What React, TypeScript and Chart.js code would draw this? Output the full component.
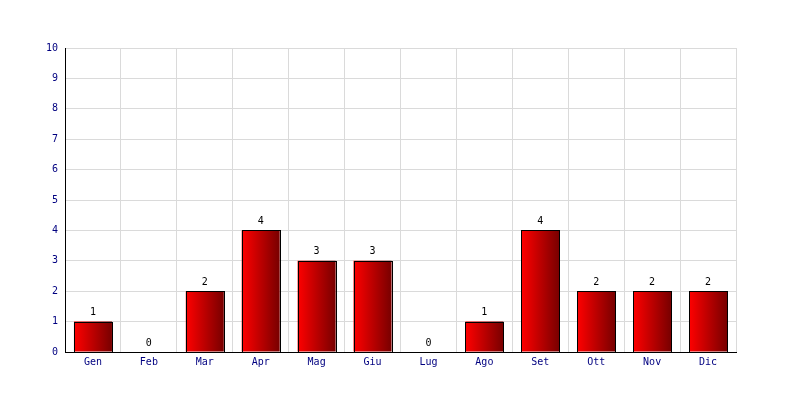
import React, { useEffect, useRef } from "react";
import { Chart, registerables } from "chart.js";

Chart.register(...registerables);

const categories = ["Gen", "Feb", "Mar", "Apr", "Mag", "Giu", "Lug", "Ago", "Set", "Ott", "Nov", "Dic"];
const values = [1, 0, 2, 4, 3, 3, 0, 1, 4, 2, 2, 2];
const yTicks = [0, 1, 2, 3, 4, 5, 6, 7, 8, 9, 10];

const FONT = "'DejaVu Sans Mono', monospace";
const BAR_PCT = 0.68;

const valueLabels = {
  id: "valueLabels",
  afterDatasetsDraw(chart: any) {
    const ctx = chart.ctx;
    const meta = chart.getDatasetMeta(0);
    ctx.save();
    // crisp black outlines
    ctx.strokeStyle = "#000000";
    ctx.lineWidth = 1;
    meta.data.forEach((el: any, i: number) => {
      if (!values[i]) return;
      const l = Math.round(el.x - el.width / 2);
      const r = Math.round(el.x + el.width / 2);
      const t = Math.round(el.y);
      const b = Math.round(el.base);
      ctx.strokeRect(l + 0.5, t + 0.5, r - l, b - t);
    });
    ctx.font = `10px ${FONT}`;
    ctx.fillStyle = "#000000";
    ctx.textAlign = "center";
    ctx.textBaseline = "bottom";
    meta.data.forEach((el: any, i: number) => {
      ctx.fillText(String(values[i]), el.x, el.y - 4);
    });
    ctx.restore();
  },
};

export default function App() {
  const ref = useRef<HTMLCanvasElement | null>(null);
  useEffect(() => {
    if (!ref.current) return;
    const chart = new Chart(ref.current, {
      type: "bar",
      data: {
        labels: categories,
        datasets: [
          {
            data: values,
            borderWidth: 0,
            categoryPercentage: 1,
            barPercentage: BAR_PCT,
            backgroundColor: (c: any) => {
              const ch = c.chart;
              const xs = ch.scales?.x;
              const area = ch.chartArea;
              if (!xs || !area) return "#cc0000";
              const cx = xs.getPixelForValue(c.dataIndex);
              const w = ((area.right - area.left) / categories.length) * BAR_PCT;
              const g = ch.ctx.createLinearGradient(cx - w / 2, 0, cx + w / 2, 0);
              g.addColorStop(0, "#ff0000");
              g.addColorStop(1, "#780000");
              return g;
            },
          },
        ],
      },
      options: {
        animation: false,
        responsive: false,
        devicePixelRatio: 1,
        layout: { padding: { left: 0, right: 64, top: 48, bottom: 0 } },
        plugins: { legend: { display: false }, tooltip: { enabled: false } },
        scales: {
          x: {
            grid: { color: "#dadada", drawTicks: false, offset: true },
            border: { color: "#000000", width: 1 },
            ticks: { color: "#000080", font: { family: FONT, size: 10 }, padding: 4 },
            afterFit: (s: any) => {
              s.height = 48;
            },
          },
          y: {
            min: 0,
            max: 10,
            afterBuildTicks: (s: any) => {
              s.ticks = yTicks.map((v) => ({ value: v }));
            },
            grid: { color: "#dadada", drawTicks: false },
            border: { color: "#000000", width: 1 },
            ticks: { color: "#000080", font: { family: FONT, size: 10 }, padding: 7 },
            afterFit: (s: any) => {
              s.width = 65;
            },
          },
        },
      },
      plugins: [valueLabels],
    });
    return () => chart.destroy();
  }, []);
  return (
    <div style={{ position: "fixed", left: 0, top: 0, width: 800, height: 400, background: "#fff" }}>
      <canvas ref={ref} width={800} height={400} style={{ width: 800, height: 400 }} />
    </div>
  );
}
